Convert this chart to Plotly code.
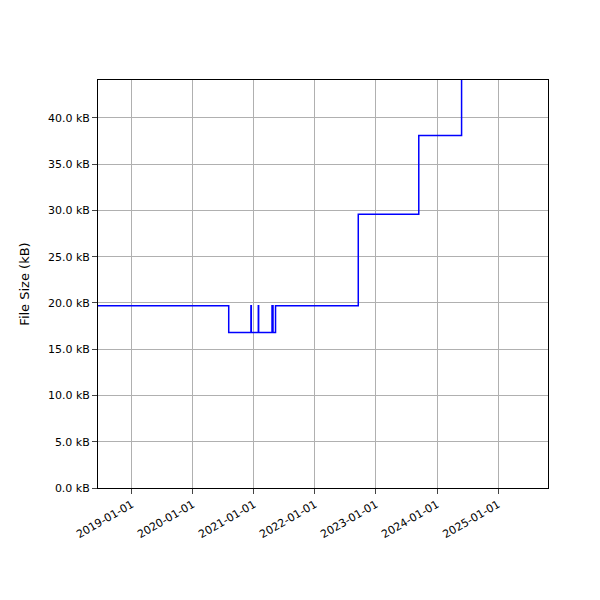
import plotly.graph_objects as go

dates = ['2018-06-01', '2020-08-03', '2020-12-14', '2020-12-16',
         '2021-01-27', '2021-01-29', '2021-04-19', '2021-04-25', '2021-05-10',
         '2022-09-17', '2023-09-14', '2024-05-27', '2025-01-01']
size_kb = [19.7, 16.8, 19.7, 16.8,
           19.7, 16.8, 19.7, 16.8, 19.7,
           29.6, 38.1, 48.0, 48.0]
ytick_vals = [0, 5, 10, 15, 20, 25, 30, 35, 40]
xtick_vals = ['2019-01-01', '2020-01-01', '2021-01-01', '2022-01-01',
              '2023-01-01', '2024-01-01', '2025-01-01']

fig = go.Figure()
fig.add_trace(go.Scatter(x=dates, y=size_kb, mode='lines',
                         line=dict(color='blue', width=1.5, shape='hv')))

fig.update_layout(
    width=600, height=600, showlegend=False,
    plot_bgcolor='white', paper_bgcolor='white',
    margin=dict(l=90, r=60, t=72, b=120),
    font=dict(family='DejaVu Sans', size=11, color='black'),
)
fig.update_xaxes(range=['2018-06-13', '2025-10-26'], tickvals=xtick_vals, ticktext=xtick_vals,
                 tickangle=-30, showgrid=True, gridcolor='#b0b0b0', showline=True, mirror=True,
                 linecolor='black', ticks='outside', zeroline=False, automargin=False)
fig.update_yaxes(range=[0, 44.1], tickvals=ytick_vals,
                 ticktext=['%.1f kB' % v for v in ytick_vals], title='File Size (kB)',
                 showgrid=True, gridcolor='#b0b0b0', showline=True, mirror=True,
                 linecolor='black', ticks='outside', zeroline=False, automargin=False)
fig.write_html("out.html")
